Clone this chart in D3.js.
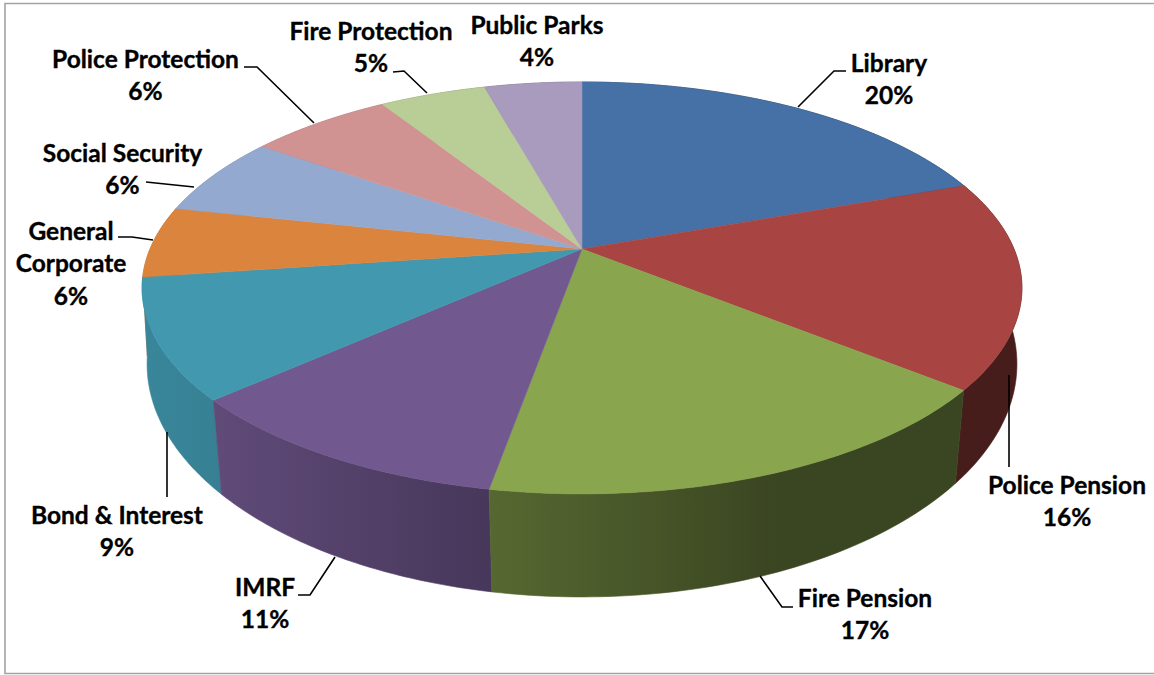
<!DOCTYPE html>
<html>
<head>
<meta charset="utf-8">
<script src="https://d3js.org/d3.v7.min.js"></script>
<style>
  html, body { margin: 0; padding: 0; background: #fff; overflow: hidden; }
  svg { display: block; }
  text { font-family: Lato, "Open Sans", sans-serif; font-weight: 700; fill: #000; stroke: #000; stroke-width: 0.35; }
</style>
</head>
<body>
<svg id="chart" width="1154" height="675"></svg>
<script>
// Tax levy shares, clockwise from twelve o'clock.
const categories = ["Library", "Police Pension", "Fire Pension", "IMRF", "Bond & Interest",
  "General Corporate", "Social Security", "Police Protection", "Fire Protection", "Public Parks"];
const shares = [19.5, 16.3, 17.0, 10.6, 9.4, 5.6, 6.3, 6.3, 4.7, 4.3];
const colors = ["#4571a6", "#a84543", "#89a54e", "#71588f", "#4198af",
  "#db843d", "#93a9cf", "#d19392", "#b9cd96", "#a99bbd"];

// Where each callout sits: text centre, first line's middle, and its leader.
const calloutLayout = [
  { x: 889,  y: 63,  leader: [[798, 107], [834, 71], [846, 71]] },
  { x: 1067, y: 485, leader: [[1009, 375], [1009, 467]] },
  { x: 865,  y: 598, leader: [[760, 576], [782, 607], [793, 607]] },
  { x: 265,  y: 587, leader: [[298, 595], [310, 595], [335, 557]] },
  { x: 117,  y: 515, leader: [[167, 432], [167, 497]] },
  { x: 71,   y: 231, lines: ["General", "Corporate"], leader: [[118, 237], [132, 237], [153, 240]] },
  { x: 122.5, y: 153, leader: [[146, 182], [194, 187]] },
  { x: 145.5, y: 59, leader: [[244, 67], [257, 67], [314, 123]] },
  { x: 371,  y: 31,  leader: [[393, 72], [404, 71], [427, 93]] },
  { x: 537,  y: 25,  leader: [] }
];

const svg = d3.select("#chart");
const defs = svg.append("defs");

// The disc seen in perspective: rim circles map to the screen by a homography.
const rim = (cy, ay, ax, p) => angle => {
  const X = Math.sin(angle), Y = -Math.cos(angle), w = 1 + p * Y;
  return [582 + ax * X / w, cy + ay * Y / w];
};
const topRim = rim(249, 198.6, 432, -0.189);
const bottomRim = rim(324.4, 226.2, 428.6, -0.17);

const arcs = d3.pie().sort(null).value(d => d.share).startAngle(0).endAngle(2 * Math.PI)(
  categories.map((name, i) => ({ name, share: shares[i], color: colors[i], layout: calloutLayout[i] }))
);

const sweep = a => d3.range(0, 61).map(k => a.startAngle + (a.endAngle - a.startAngle) * k / 60);
const path = d3.line();

// Side-wall lighting falls off from left to right across the disc.
const shade = d3.scaleLinear().domain([142, 222, 490, 780, 1022]).range([0.88, 0.84, 0.63, 0.42, 0.42]);
const darker = (c, f) => { const r = d3.rgb(c); return d3.rgb(r.r * f, r.g * f, r.b * f).formatHex(); };

arcs.forEach((a, i) => {
  const g = defs.append("linearGradient").attr("id", "wall" + i)
    .attr("gradientUnits", "userSpaceOnUse")
    .attr("x1", 142).attr("x2", 1022).attr("y1", 0).attr("y2", 0);
  shade.domain().forEach(x => {
    g.append("stop").attr("offset", (x - 142) / 880).attr("stop-color", darker(a.data.color, shade(x)));
  });
});

// Walls first, nearest last, then the top face hides whatever lies behind it.
const wallOrder = arcs.map((a, i) => ({ a, i }))
  .sort((m, n) => -Math.cos((m.a.startAngle + m.a.endAngle) / 2) + Math.cos((n.a.startAngle + n.a.endAngle) / 2));

svg.append("g").selectAll("path").data(wallOrder).join("path")
  .attr("d", d => {
    const t = sweep(d.a);
    return path(t.map(topRim).concat(t.slice().reverse().map(bottomRim))) + "Z";
  })
  .attr("fill", d => `url(#wall${d.i})`)
  .attr("stroke", d => `url(#wall${d.i})`)
  .attr("stroke-width", 0.6);

svg.append("g").selectAll("path").data(arcs).join("path")
  .attr("d", a => path([[582, 249]].concat(sweep(a).map(topRim))) + "Z")
  .attr("fill", a => a.data.color)
  .attr("stroke", a => a.data.color)
  .attr("stroke-width", 0.5);

// Chart frame, open on the right.
svg.append("path").attr("d", "M1154,3.5H5V673.5H1154")
  .attr("fill", "none").attr("stroke", "#a3a3a3").attr("stroke-width", 1.6);

const leader = d3.line();
const labels = svg.append("g");
arcs.forEach(a => {
  const lay = a.data.layout;
  if (lay.leader.length) {
    labels.append("path").attr("d", leader(lay.leader))
      .attr("fill", "none").attr("stroke", "#000").attr("stroke-width", 1.6);
  }
  const lines = (lay.lines || [a.data.name]).concat(d3.format(".0f")(a.data.share) + "%");
  lines.forEach((line, k) => {
    labels.append("text")
      .attr("x", lay.x).attr("y", lay.y - 0.7 + k * 32.5)
      .attr("text-anchor", "middle").attr("dominant-baseline", "central")
      .attr("font-size", 24.5).text(line);
  });
});
</script>
</body>
</html>
